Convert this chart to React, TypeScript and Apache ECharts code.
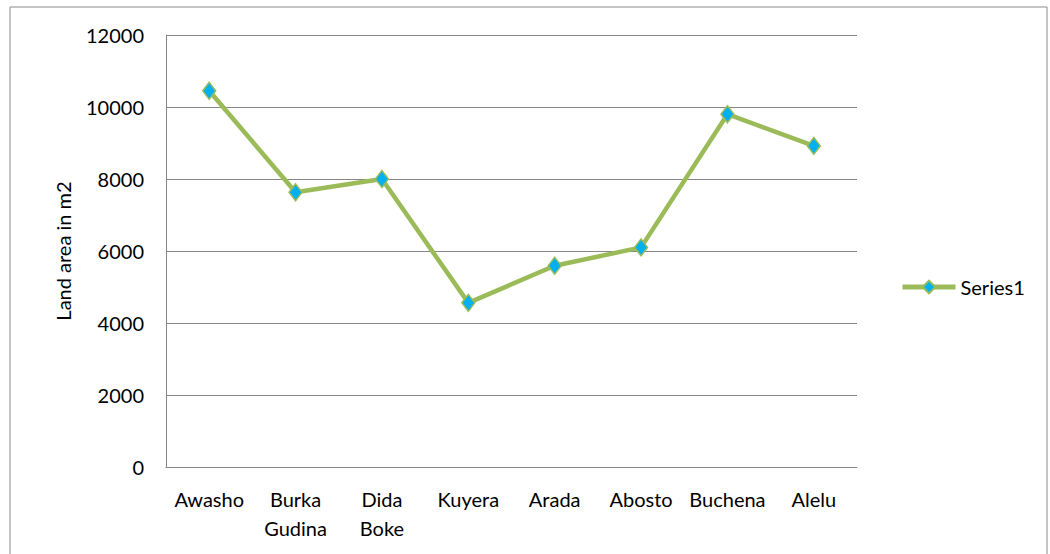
import React, { useEffect, useRef } from "react";
import * as echarts from "echarts";

const categories = ["Awasho", "Burka\nGudina", "Dida\nBoke", "Kuyera", "Arada", "Abosto", "Buchena", "Alelu"];
const series1 = [10450, 7630, 8000, 4560, 5590, 6100, 9800, 8920];
const yTicks = { min: 0, max: 12000, interval: 2000 };
const yTitle = "Land area in m2";
const seriesName = "Series1";

const FONT = "Lato, 'Open Sans', sans-serif";

export default function App() {
  const ref = useRef<HTMLDivElement>(null);
  useEffect(() => {
    if (!ref.current) return;
    const chart = echarts.init(ref.current, null, { renderer: "svg" });
    chart.setOption({
      animation: false,
      backgroundColor: "#ffffff",
      graphic: [
        {
          type: "rect",
          shape: { x: 10, y: 7, width: 1037, height: 600 },
          style: { fill: "none", stroke: "#8c8c8c", lineWidth: 1 },
          silent: true,
          z: -1,
        },
      ],
      grid: { left: 166, right: 193, top: 35, bottom: 87 },
      legend: {
        data: [seriesName],
        orient: "vertical",
        left: 895,
        top: 272,
        itemWidth: 53,
        itemHeight: 16,
        itemGap: 8,
        lineStyle: { width: 5 },
        textStyle: { fontFamily: FONT, fontSize: 20, color: "#000" },
      },
      xAxis: {
        type: "category",
        data: categories,
        boundaryGap: true,
        axisLine: { show: true, lineStyle: { color: "#868686", width: 1 } },
        axisTick: { show: false },
        axisLabel: {
          interval: 0,
          margin: 17,
          fontFamily: FONT,
          fontSize: 20,
          color: "#000",
          lineHeight: 29,
        },
      },
      yAxis: {
        type: "value",
        min: yTicks.min,
        max: yTicks.max,
        interval: yTicks.interval,
        name: yTitle,
        nameLocation: "middle",
        nameGap: 93,
        nameRotate: 90,
        nameTextStyle: { fontFamily: FONT, fontSize: 20, color: "#000" },
        axisLine: { show: true, lineStyle: { color: "#868686", width: 1 } },
        axisTick: { show: false },
        axisLabel: {
          margin: 22,
          fontFamily: FONT,
          fontSize: 20,
          color: "#000",
          formatter: (v: number) => String(v),
        },
        splitLine: { show: true, lineStyle: { color: "#868686", width: 1 } },
      },
      series: [
        {
          name: seriesName,
          type: "line",
          data: series1,
          symbol: "diamond",
          symbolSize: [13, 17],
          lineStyle: { color: "#9BBB59", width: 4.5 },
          itemStyle: { color: "#00B0F0", borderColor: "#9BBB59", borderWidth: 1.5 },
        },
      ],
    });
    return () => chart.dispose();
  }, []);
  return (
    <div
      ref={ref}
      style={{ position: "fixed", left: 0, top: 0, width: 1050, height: 554 }}
    />
  );
}
